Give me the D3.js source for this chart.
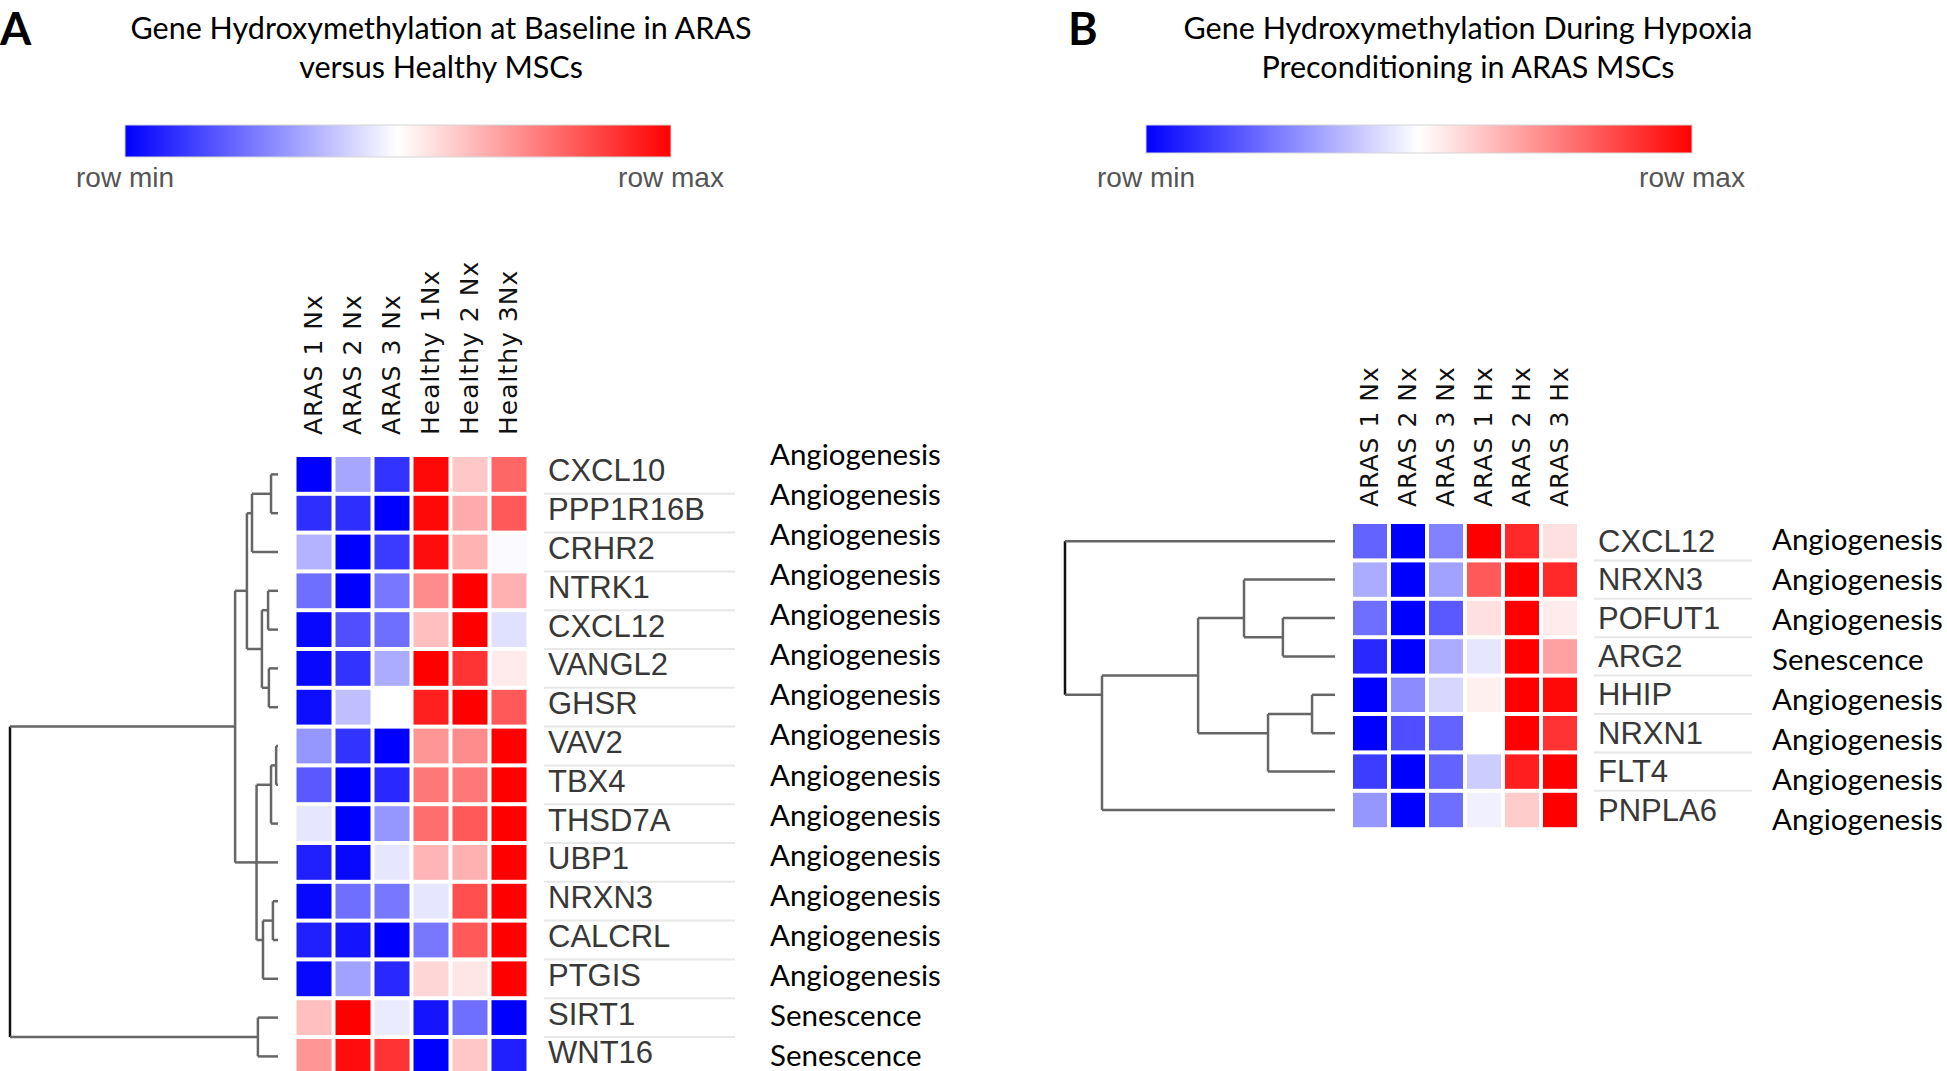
<!DOCTYPE html>
<html>
<head>
<meta charset="utf-8" />
<title>Gene Hydroxymethylation Heatmaps</title>
<style>
  body { margin: 0; background: #fff; }
  svg { display: block; }
</style>
</head>
<body>
<script src="https://d3js.org/d3.v7.min.js"></script>
<script>
// ---- panel A: baseline, ARAS vs healthy ----
var samplesA = ["ARAS 1 Nx", "ARAS 2 Nx", "ARAS 3 Nx", "Healthy 1Nx", "Healthy 2 Nx", "Healthy 3Nx"];
var genesA = ["CXCL10", "PPP1R16B", "CRHR2", "NTRK1", "CXCL12", "VANGL2", "GHSR", "VAV2",
              "TBX4", "THSD7A", "UBP1", "NRXN3", "CALCRL", "PTGIS", "SIRT1", "WNT16"];
var categoriesA = ["Angiogenesis", "Angiogenesis", "Angiogenesis", "Angiogenesis", "Angiogenesis",
                   "Angiogenesis", "Angiogenesis", "Angiogenesis", "Angiogenesis", "Angiogenesis",
                   "Angiogenesis", "Angiogenesis", "Angiogenesis", "Angiogenesis", "Senescence", "Senescence"];
// row-scaled values, -1 = row min, 1 = row max
var valuesA = [
  [-1, -0.35, -0.8, 0.97, 0.22, 0.6],
  [-0.82, -0.82, -1, 0.97, 0.33, 0.65],
  [-0.3, -1, -0.77, 0.95, 0.3, -0.02],
  [-0.57, -1, -0.53, 0.45, 1, 0.31],
  [-0.97, -0.69, -0.57, 0.25, 1, -0.12],
  [-0.97, -0.8, -0.33, 1, 0.8, 0.08],
  [-0.95, -0.25, 0, 0.88, 1, 0.65],
  [-0.41, -0.8, -1, 0.41, 0.45, 1],
  [-0.65, -1, -0.84, 0.53, 0.53, 1],
  [-0.1, -1, -0.41, 0.57, 0.65, 1],
  [-0.88, -0.97, -0.1, 0.29, 0.31, 1],
  [-0.97, -0.57, -0.53, -0.1, 0.69, 1],
  [-0.88, -0.92, -1, -0.53, 0.65, 1],
  [-0.97, -0.37, -0.84, 0.16, 0.1, 1],
  [0.25, 1, -0.08, -0.92, -0.57, -1],
  [0.41, 0.95, 0.8, -1, 0.22, -0.88]
];
// dendrogram: [height, left, right], leaves are row indexes
var treeA = [1.0,
  [0.16,
    [0.116, [0.097, [0.026, 0, 1], 2], [0.06, [0.037, 3, 4], [0.034, 5, 6]]],
    [0.086, [0.08, [0.026, [0.007, 7, 8], 9], [0.056, [0.019, 11, 12], 13]], 10]],
  [0.075, 14, 15]];

// ---- panel B: hypoxia preconditioning in ARAS ----
var samplesB = ["ARAS 1 Nx", "ARAS 2 Nx", "ARAS 3 Nx", "ARAS 1 Hx", "ARAS 2 Hx", "ARAS 3 Hx"];
var genesB = ["CXCL12", "NRXN3", "POFUT1", "ARG2", "HHIP", "NRXN1", "FLT4", "PNPLA6"];
var categoriesB = ["Angiogenesis", "Angiogenesis", "Angiogenesis", "Senescence",
                   "Angiogenesis", "Angiogenesis", "Angiogenesis", "Angiogenesis"];
var valuesB = [
  [-0.61, -1, -0.49, 1, 0.84, 0.12],
  [-0.33, -1, -0.37, 0.65, 1, 0.84],
  [-0.57, -1, -0.65, 0.12, 1, 0.08],
  [-0.84, -1, -0.33, -0.1, 1, 0.37],
  [-1, -0.45, -0.16, 0.06, 1, 0.97],
  [-1, -0.69, -0.61, 0, 1, 0.8],
  [-0.76, -1, -0.61, -0.2, 0.88, 1],
  [-0.41, -1, -0.57, -0.06, 0.2, 1]
];
var treeB = [1.0, 0,
  [0.863, [0.507, [0.337, 1, [0.193, 2, 3]], [0.248, [0.085, 4, 5], 6]], 7]];

var legendLabels = ["row min", "row max"];

var width = 1947, height = 1071;

var svg = d3.select("body").append("svg")
    .attr("width", width)
    .attr("height", height);

var color = d3.scaleLinear()
    .domain([-1, 0, 1])
    .range(["#0000ff", "#ffffff", "#ff0000"]);

var grad = svg.append("defs").append("linearGradient")
    .attr("id", "rowScale");
grad.selectAll("stop")
    .data([-1, -0.5, 0, 0.5, 1])
    .enter().append("stop")
    .attr("offset", d => ((d + 1) / 2 * 100) + "%")
    .attr("stop-color", d => color(d));

function drawPanel(p) {
  var g = svg.append("g");

  g.append("text")
   .attr("x", p.letterX)
   .attr("y", 45)
   .style("font-family", "Lato")
   .style("font-weight", "bold")
   .style("font-size", "45px")
   .text(p.letter);

  g.selectAll(".title")
   .data(p.title)
   .enter().append("text")
   .attr("x", p.titleX)
   .attr("y", (d, i) => 39 + i * 39)
   .attr("text-anchor", "middle")
   .style("font-family", "Lato")
   .style("font-size", "30.5px")
   .text(d => d);

  // colour legend
  var lx = d3.scaleLinear().domain([0, 1]).range([p.barX0, p.barX1]);
  g.append("rect")
   .attr("x", lx(0))
   .attr("y", 125)
   .attr("width", lx(1) - lx(0))
   .attr("height", p.barH)
   .attr("fill", "url(#rowScale)")
   .attr("stroke", "#d6d6d6")
   .attr("stroke-width", 1);

  g.selectAll(".legendLabel")
   .data(legendLabels)
   .enter().append("text")
   .attr("x", (d, i) => lx(i))
   .attr("y", 187)
   .attr("text-anchor", "middle")
   .style("font-family", "Liberation Sans")
   .style("font-size", "28px")
   .style("fill", "#555")
   .text(d => d);

  // heatmap
  var xs = d3.scaleBand().domain(p.samples).range([p.x0, p.x1]);
  var ys = d3.scaleBand().domain(p.genes).range([p.y0, p.y0 + p.rowH * p.genes.length]);
  var bw = xs.bandwidth(), bh = ys.bandwidth();

  p.values.forEach(function(row, r) {
    g.selectAll(".cell" + r)
     .data(row)
     .enter().append("rect")
     .attr("x", (d, c) => xs(p.samples[c]) + 2)
     .attr("y", ys(p.genes[r]) + 2)
     .attr("width", bw - 4)
     .attr("height", bh - 4)
     .attr("fill", d => color(d));
  });

  g.selectAll(".colLabel")
   .data(p.samples)
   .enter().append("text")
   .attr("transform", d => "translate(" + (xs(d) + bw / 2 + 8) + "," + p.labelBottom + ") rotate(-90)")
   .style("font-family", "DejaVu Sans")
   .style("font-size", "25px")
   .style("letter-spacing", "1px")
   .style("fill", "#111")
   .text(d => d);

  // row separators beside gene names
  g.selectAll(".sep")
   .data(p.genes.slice(0, -1))
   .enter().append("line")
   .attr("x1", p.geneX - 4)
   .attr("x2", p.sepX1)
   .attr("y1", d => ys(d) + bh)
   .attr("y2", d => ys(d) + bh)
   .attr("stroke", "#e8e8e8")
   .attr("stroke-width", 2);

  g.selectAll(".gene")
   .data(p.genes)
   .enter().append("text")
   .attr("x", p.geneX)
   .attr("y", d => ys(d) + bh / 2 + p.geneDy)
   .style("font-family", "Liberation Sans")
   .style("font-size", "31px")
   .style("fill", "#383838")
   .text(d => d);

  var cy = d3.scaleLinear().domain([0, p.categories.length - 1])
             .range([p.catY0, p.catY0 + p.catStep * (p.categories.length - 1)]);
  g.selectAll(".cat")
   .data(p.categories)
   .enter().append("text")
   .attr("x", p.catX)
   .attr("y", (d, i) => cy(i))
   .style("font-family", "Lato")
   .style("font-size", "29.5px")
   .style("fill", "#000")
   .text(d => d);

  // dendrogram
  var hx = d3.scaleLinear().domain([0, 1]).range([p.leafX, p.rootX]);
  var root = d3.hierarchy(p.tree, d => Array.isArray(d) ? d.slice(1) : null);
  var hOf = n => Array.isArray(n.data) ? n.data[0] : 0;
  var yOf = n => d3.mean(n.leaves(), l => ys(p.genes[l.data]) + bh / 2);

  root.descendants().filter(n => n.children).forEach(function(n) {
    var x = hx(hOf(n));
    var cys = n.children.map(yOf);
    g.append("line")
     .attr("x1", x).attr("x2", x)
     .attr("y1", d3.min(cys)).attr("y2", d3.max(cys))
     .attr("stroke", n === root ? "#111" : "#666")
     .attr("stroke-width", 2.5);
    n.children.forEach(function(c, i) {
      g.append("line")
       .attr("x1", x).attr("x2", hx(hOf(c)))
       .attr("y1", cys[i]).attr("y2", cys[i])
       .attr("stroke", "#666")
       .attr("stroke-width", 2.5);
    });
  });
}

drawPanel({
  letter: "A", letterX: 0, titleX: 441,
  title: ["Gene Hydroxymethylation at Baseline in ARAS", "versus Healthy MSCs"],
  barX0: 125, barX1: 671, barH: 32,
  samples: samplesA, genes: genesA, categories: categoriesA, values: valuesA, tree: treeA,
  x0: 294.5, x1: 528.5, y0: 455, rowH: 38.8, labelBottom: 435,
  leafX: 278, rootX: 10, geneX: 548, geneDy: 7, sepX1: 735,
  catX: 770, catY0: 465, catStep: 40.07
});

drawPanel({
  letter: "B", letterX: 1068, titleX: 1468,
  title: ["Gene Hydroxymethylation During Hypoxia", "Preconditioning in ARAS MSCs"],
  barX0: 1146, barX1: 1692, barH: 28,
  samples: samplesB, genes: genesB, categories: categoriesB, values: valuesB, tree: treeB,
  x0: 1351, x1: 1579, y0: 522, rowH: 38.4, labelBottom: 507,
  leafX: 1335, rootX: 1065, geneX: 1598, geneDy: 10.5, sepX1: 1752,
  catX: 1772, catY0: 550, catStep: 40
});
</script>
</body>
</html>
